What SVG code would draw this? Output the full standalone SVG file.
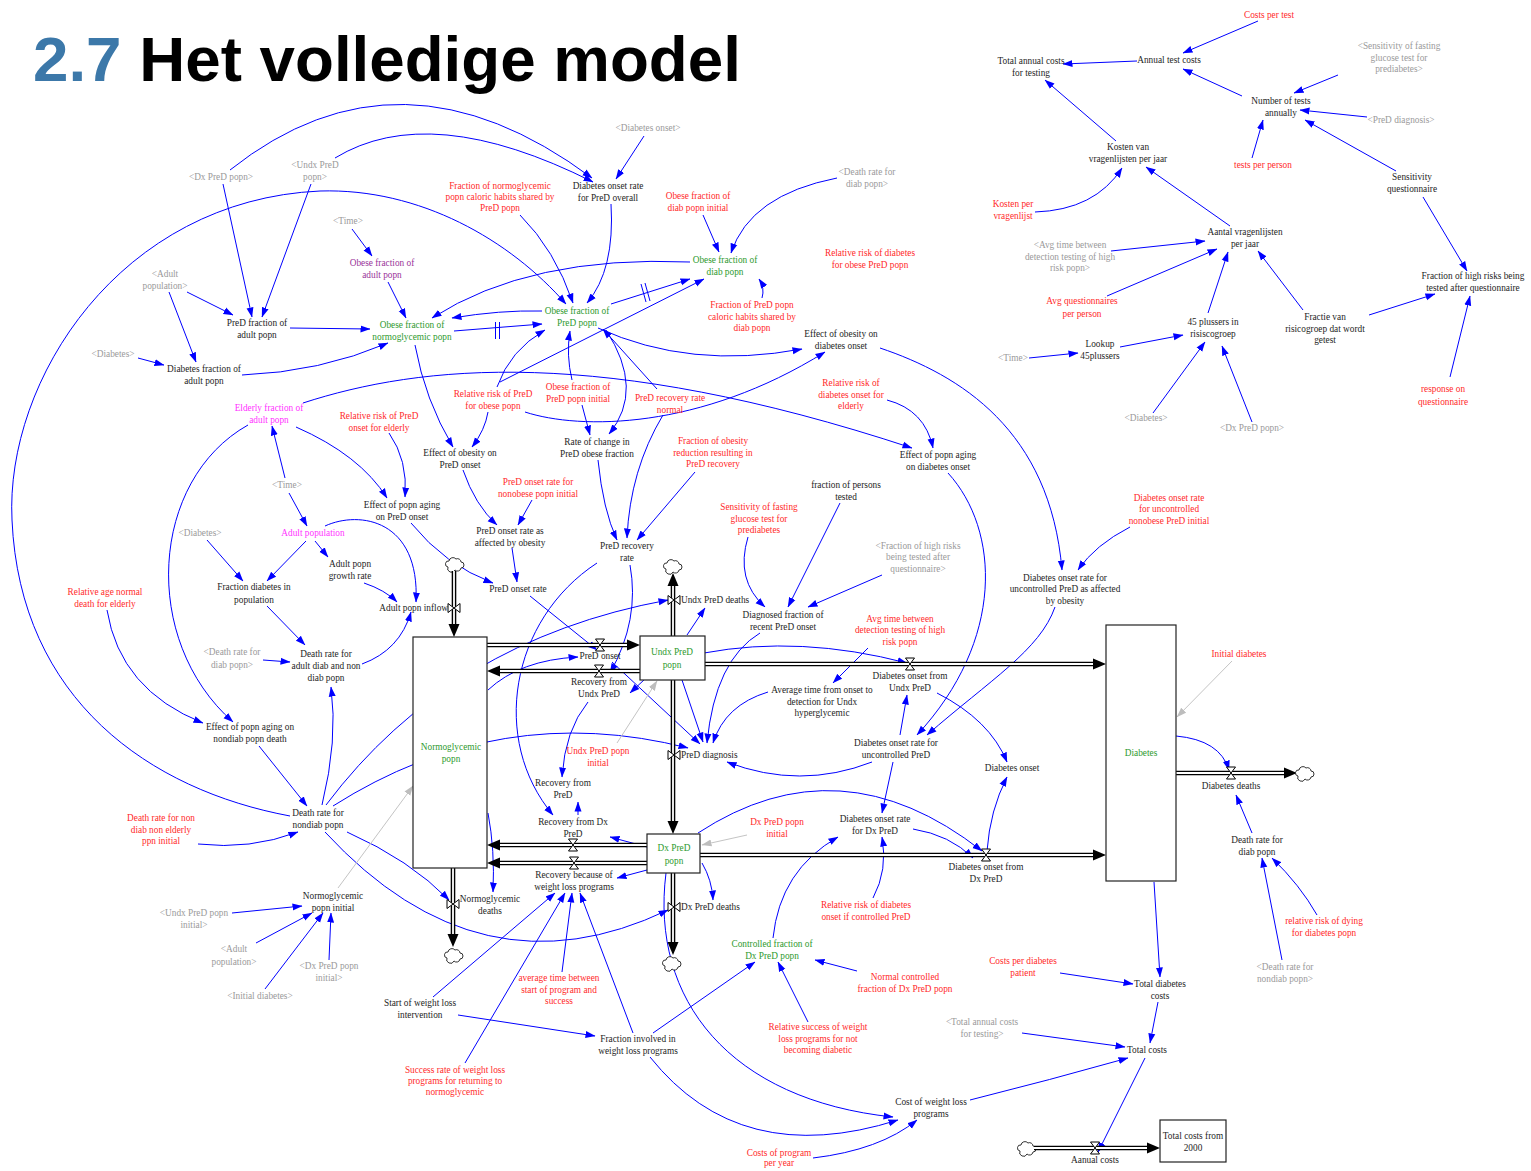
<svg xmlns="http://www.w3.org/2000/svg" xmlns:xlink="http://www.w3.org/1999/xlink" width="1531" height="1171" viewBox="0 0 1531 1171">
<style>
.t{font-family:"Liberation Serif","Times New Roman",serif;font-size:9.3px;text-anchor:middle}
.s{text-anchor:start}.e{text-anchor:end}
.k{fill:#1e1e1e}.r{fill:#ff2a2a}.g{fill:#9a9a9a}.gr{fill:#2e9a2e}.p{fill:#993399}.m{fill:#ff33ff}
.a{fill:none;stroke:#0000ff;stroke-width:1;marker-end:url(#ab)}
.ag{fill:none;stroke:#c4c4c4;stroke-width:1;marker-end:url(#ag)}
.h{stroke:#0000ff;stroke-width:1;fill:none}
.po{fill:none;stroke:#000;stroke-width:4.6}
.pi{fill:none;stroke:#fff;stroke-width:1.8}
.ph{fill:#000}
.st{fill:#fff;stroke:#222;stroke-width:1.2}
.v{fill:#fff;stroke:#000;stroke-width:1}
.cl{fill:#fff;stroke:#000;stroke-width:0.8}
</style>
<defs>
<marker id="ab" markerUnits="userSpaceOnUse" markerWidth="10" markerHeight="8" viewBox="0 0 10 8" refX="9.5" refY="4" orient="auto"><path d="M0,0.5 L10,4 L0,7.5 Z" fill="#0000ff"/></marker>
<marker id="ag" markerUnits="userSpaceOnUse" markerWidth="10" markerHeight="8" viewBox="0 0 10 8" refX="9.5" refY="4" orient="auto"><path d="M0,0.5 L10,4 L0,7.5 Z" fill="#bdbdbd"/></marker>
<path id="vh" class="v" d="M-4.5,-6H4.5L-4.5,6H4.5Z"/>
<path id="vv" class="v" d="M-6,-4.5V4.5L6,-4.5V4.5Z"/>
<path id="cloud" class="cl" d="M-7,3 A3,3 0 0 1 -6,-3 A4,4 0 0 1 1,-5 A3.5,3.5 0 0 1 6,-2 A3,3 0 0 1 6,4 A3.5,3.5 0 0 1 0,6 A3.5,3.5 0 0 1 -7,3 Z"/>
</defs>
<rect width="1531" height="1171" fill="#fff"/>
<text x="33" y="81" font-family="Liberation Sans, Arial, sans-serif" font-weight="bold" font-size="63.7" fill="#000"><tspan fill="#3c78a9">2.7</tspan> Het volledige model</text>

<g id="connectors">
<path class="a" d="M1258,21 L1183,53"/>
<path class="a" d="M1137,61 L1063,64"/>
<path class="a" d="M1242,96 L1183,69"/>
<path class="a" d="M1338,75 L1294,93"/>
<path class="a" d="M1367,117 L1300,110"/>
<path class="a" d="M1252,158 L1263,120"/>
<path class="a" d="M1396,171 L1305,120"/>
<path class="a" d="M1116,141 L1045,80"/>
<path class="a" d="M1035,212 Q1095,210 1122,168"/>
<path class="a" d="M1230,226 L1146,167"/>
<path class="a" d="M1111,251 L1205,241"/>
<path class="a" d="M1107,296 L1217,249"/>
<path class="a" d="M1208,313 L1228,252"/>
<path class="a" d="M1303,310 L1258,251"/>
<path class="a" d="M1423,197 L1467,271"/>
<path class="a" d="M1369,315 L1435,294"/>
<path class="a" d="M1450,377 L1470,296"/>
<path class="a" d="M1120,347 L1183,335"/>
<path class="a" d="M1029,358 L1078,353"/>
<path class="a" d="M1153,413 L1205,342"/>
<path class="a" d="M1252,422 L1222,346"/>

<path class="a" d="M223,184 L252,317"/>
<path class="a" d="M311,184 L262,317"/>
<path class="a" d="M230,170 Q400,35 592,178"/>
<path class="a" d="M335,158 Q430,100 593,182"/>
<path class="a" d="M187,292 L233,315"/>
<path class="a" d="M169,292 L196,362"/>
<path class="a" d="M138,358 L164,365"/>
<path class="a" d="M290,328 L370,329"/>
<path class="a" d="M242,375 Q320,372 388,343"/>
<path class="a" d="M352,229 L372,256"/>
<path class="a" d="M388,282 L406,318"/>
<path class="a" d="M690,262 Q530,255 432,318"/>
<path class="a" d="M542,311 Q500,310 452,318"/>
<path class="a" d="M454,331 L542,324"/>
<path class="h" d="M495.5,322 V339 M499.5,322 V339"/>
<path class="a" d="M290,816 C150,790 20,700 12,520 C5,380 120,200 320,191 C420,188 510,240 566,304"/>
<path class="a" d="M520,215 Q555,250 573,303"/>
<path class="a" d="M611,204 Q615,270 587,303"/>
<path class="a" d="M644,136 L616,179"/>
<path class="a" d="M703,215 L719,252"/>
<path class="a" d="M837,178 Q750,195 731,253"/>
<path class="a" d="M762,298 Q765,288 759,279"/>
<path class="a" d="M611,304 L690,279"/>
<path class="h" d="M641,284 L646,302 M645,283 L650,301"/>
<path class="a" d="M500,382 L704,279"/>
<path class="a" d="M497,387 Q510,350 545,330"/>
<path class="a" d="M598,328 Q690,370 802,349"/>
<path class="a" d="M606,330 Q645,390 609,434"/>
<path class="a" d="M572,380 Q566,355 570,331"/>
<path class="a" d="M582,405 L590,435"/>
<path class="a" d="M657,389 L603,329"/>
<path class="a" d="M663,415 Q630,470 627,538"/>
<path class="a" d="M695,472 L637,540"/>
<path class="a" d="M598,460 Q603,510 617,540"/>
<path class="a" d="M532,500 L518,525"/>
<path class="a" d="M512,548 L517,582"/>
<path class="a" d="M530,596 L597,650"/>
<path class="a" d="M415,345 Q425,400 453,447"/>
<path class="a" d="M488,412 Q485,430 472,447"/>
<path class="a" d="M525,412 C580,430 700,430 825,352"/>
<path class="a" d="M303,403 C420,365 600,345 912,448"/>
<path class="a" d="M887,400 Q925,410 933,448"/>
<path class="a" d="M880,348 C960,375 1050,430 1062,570"/>
<path class="a" d="M1130,527 Q1095,545 1078,570"/>
<path class="a" d="M948,473 C1000,530 1005,640 917,735"/>
<path class="a" d="M1055,607 C1040,650 990,680 927,735"/>
<path class="a" d="M840,503 L788,607"/>
<path class="a" d="M748,537 Q735,580 765,607"/>
<path class="a" d="M882,575 L808,607"/>
<path class="a" d="M868,648 L833,683"/>
<path class="a" d="M760,633 Q715,660 707,743"/>
<path class="a" d="M768,692 Q725,705 713,743"/>
<path class="a" d="M872,762 Q800,790 727,762"/>
<path class="a" d="M682,680 L703,742"/>
<path class="a" d="M612,662 L700,744"/>
<path class="a" d="M704,653 Q800,635 907,663"/>
<path class="a" d="M900,735 L907,695"/>
<path class="a" d="M893,762 L882,813"/>
<path class="a" d="M937,693 Q990,720 1007,762"/>
<path class="a" d="M987,851 Q990,810 1007,777"/>
<path class="a" d="M698,833 Q840,740 982,851"/>
<path class="a" d="M913,829 Q950,835 973,858"/>
<path class="a" d="M873,898 Q888,870 882,837"/>
<path class="a" d="M773,938 Q780,870 838,837"/>
<path class="a" d="M857,971 L815,960"/>
<path class="a" d="M808,1022 L778,962"/>
<path class="a" d="M653,1033 L755,962"/>
<path class="a" d="M458,1015 L595,1036"/>
<path class="a" d="M433,997 L555,893"/>
<path class="a" d="M465,1063 L565,893"/>
<path class="a" d="M562,972 L572,893"/>
<path class="a" d="M633,1033 L580,893"/>
<path class="a" d="M650,1057 Q740,1170 898,1120"/>
<path class="a" d="M666,873 C650,1000 730,1100 893,1117"/>
<path class="a" d="M813,1158 Q880,1150 917,1120"/>
<path class="a" d="M970,1100 Q1050,1080 1128,1058"/>
<path class="a" d="M1022,1033 L1125,1047"/>
<path class="a" d="M1158,1002 L1150,1043"/>
<path class="a" d="M1060,973 L1133,984"/>
<path class="a" d="M1154,882 L1160,977"/>
<path class="a" d="M1145,1058 L1098,1152"/>
<path class="a" d="M1252,833 L1236,795"/>
<path class="a" d="M1282,960 L1262,858"/>
<path class="a" d="M1317,915 Q1300,885 1272,858"/>
<path class="a" d="M1176,736 Q1220,740 1229,770"/>
<path class="ag" d="M1232,661 L1177,717"/>

<path class="a" d="M285,478 L272,426"/>
<path class="a" d="M289,493 L307,526"/>
<path class="a" d="M296,427 Q360,455 387,498"/>
<path class="a" d="M389,433 Q408,460 405,497"/>
<path class="a" d="M411,523 Q445,565 493,583"/>
<path class="a" d="M463,470 Q475,505 497,525"/>
<path class="a" d="M207,540 L243,581"/>
<path class="a" d="M306,541 L267,581"/>
<path class="a" d="M315,541 L328,557"/>
<path class="a" d="M325,526 C360,510 420,520 416,602"/>
<path class="a" d="M364,583 Q385,590 397,602"/>
<path class="a" d="M267,606 L305,645"/>
<path class="a" d="M263,660 L290,662"/>
<path class="a" d="M362,664 Q400,650 411,612"/>
<path class="a" d="M248,425 C150,480 140,640 233,722"/>
<path class="a" d="M107,610 Q120,690 203,723"/>
<path class="a" d="M259,746 L307,806"/>
<path class="a" d="M198,844 Q250,850 298,832"/>
<path class="a" d="M322,805 Q338,740 331,687"/>
<path class="a" d="M326,805 Q450,640 668,600"/>
<path class="a" d="M333,806 Q500,700 688,748"/>
<path class="a" d="M347,832 Q410,860 449,900"/>
<path class="a" d="M325,832 Q480,1000 668,910"/>
<path class="a" d="M488,813 Q495,850 493,892"/>
<path class="ag" d="M338,888 L413,786"/>
<path class="a" d="M232,913 L302,906"/>
<path class="a" d="M256,943 L312,913"/>
<path class="a" d="M265,989 L323,913"/>
<path class="a" d="M329,960 L331,913"/>
<path class="a" d="M488,690 Q520,660 578,657"/>
<path class="a" d="M597,563 C510,620 490,740 553,815"/>
<path class="a" d="M630,565 Q640,620 610,673"/>
<path class="a" d="M687,635 L705,608"/>
<path class="a" d="M645,679 L630,693"/>
<path class="ag" d="M617,743 L657,681"/>
<path class="a" d="M588,702 Q565,730 562,777"/>
<path class="a" d="M578,815 L578,802"/>
<path class="a" d="M647,847 L610,837"/>
<path class="a" d="M647,870 L617,878"/>
<path class="ag" d="M747,835 L702,845"/>
<path class="a" d="M702,863 Q712,880 713,900"/>
</g>

<g id="flows">
<g id="f-adult-popn-inflow"><use href="#cloud" x="455" y="564"/><path class="po" d="M454,571 V626"/><path class="pi" d="M454,571 V626"/><polygon class="ph" points="448.5,624 454,637 459.5,624"/><use href="#vv" x="454" y="608"/><text class="t k e" x="448" y="611">Adult popn inflow</text></g>
<g id="f-pred-onset"><path class="po" d="M487,645 H629"/><path class="pi" d="M487,645 H629"/><polygon class="ph" points="627,639.5 640,645 627,650.5"/><use href="#vh" x="600" y="645"/><text class="t k" x="600" y="659">PreD onset</text></g>
<g id="f-recovery-undx"><path class="po" d="M640,671 H498"/><path class="pi" d="M640,671 H498"/><polygon class="ph" points="500,665.5 487,671 500,676.5"/><use href="#vh" x="599" y="671"/><text class="t k" x="599" y="685"><tspan x="599">Recovery from</tspan><tspan x="599" dy="11.6">Undx PreD</tspan></text></g>
<g id="f-undx-deaths"><use href="#cloud" x="673" y="566"/><path class="po" d="M673,636 V584"/><path class="pi" d="M673,636 V584"/><polygon class="ph" points="667.5,586 673,573 678.5,586"/><use href="#vv" x="674" y="600"/><text class="t k s" x="681" y="603">Undx PreD deaths</text></g>
<g id="f-pred-diagnosis"><path class="po" d="M673,680 V823"/><path class="pi" d="M673,680 V823"/><polygon class="ph" points="667.5,821 673,834 678.5,821"/><use href="#vv" x="674" y="755"/><text class="t k s" x="681" y="758">PreD diagnosis</text></g>
<g id="f-diab-onset-undx"><path class="po" d="M705,664 H1095"/><path class="pi" d="M705,664 H1095"/><polygon class="ph" points="1093,658.5 1106,664 1093,669.5"/><use href="#vh" x="910" y="664"/><text class="t k" x="910" y="679"><tspan x="910">Diabetes onset from</tspan><tspan x="910" dy="11.6">Undx PreD</tspan></text></g>
<g id="f-recovery-dx"><path class="po" d="M647,845 H498"/><path class="pi" d="M647,845 H498"/><polygon class="ph" points="500,839.5 487,845 500,850.5"/><use href="#vh" x="573" y="845"/><text class="t k" x="573" y="825"><tspan x="573">Recovery from Dx</tspan><tspan x="573" dy="11.6">PreD</tspan></text></g>
<g id="f-recovery-weight"><path class="po" d="M647,863 H498"/><path class="pi" d="M647,863 H498"/><polygon class="ph" points="500,857.5 487,863 500,868.5"/><use href="#vh" x="574" y="863"/><text class="t k" x="574" y="878"><tspan x="574">Recovery because of</tspan><tspan x="574" dy="11.6">weight loss programs</tspan></text></g>
<g id="f-diab-onset-dx"><path class="po" d="M700,855 H1095"/><path class="pi" d="M700,855 H1095"/><polygon class="ph" points="1093,849.5 1106,855 1093,860.5"/><use href="#vh" x="986" y="855"/><text class="t k" x="986" y="870"><tspan x="986">Diabetes onset from</tspan><tspan x="986" dy="11.6">Dx PreD</tspan></text></g>
<g id="f-dx-deaths"><path class="po" d="M673,873 V944"/><path class="pi" d="M673,873 V944"/><polygon class="ph" points="667.5,942 673,955 678.5,942"/><use href="#cloud" x="672" y="963"/><use href="#vv" x="674" y="907"/><text class="t k s" x="681" y="910">Dx PreD deaths</text></g>
<g id="f-normo-deaths"><path class="po" d="M453,868 V936"/><path class="pi" d="M453,868 V936"/><polygon class="ph" points="447.5,934 453,947 458.5,934"/><use href="#cloud" x="454" y="955"/><use href="#vv" x="453" y="904"/><text class="t k" x="490" y="902"><tspan x="490">Normoglycemic</tspan><tspan x="490" dy="11.6">deaths</tspan></text></g>
<g id="f-diabetes-deaths"><path class="po" d="M1176,773 H1286"/><path class="pi" d="M1176,773 H1286"/><polygon class="ph" points="1284,767.5 1297,773 1284,778.5"/><use href="#cloud" x="1305" y="773"/><use href="#vh" x="1231" y="773"/><text class="t k" x="1231" y="789">Diabetes deaths</text></g>
<g id="f-aanual-costs"><use href="#cloud" x="1027" y="1148"/><path class="po" d="M1034,1148 H1149"/><path class="pi" d="M1034,1148 H1149"/><polygon class="ph" points="1147,1142.5 1160,1148 1147,1153.5"/><use href="#vh" x="1095" y="1148"/><text class="t k" x="1095" y="1163">Aanual costs</text></g>
</g>

<g id="stocks">
<g id="s-normoglycemic"><rect class="st" x="413" y="637" width="74" height="231"/><text class="t gr" x="451" y="750"><tspan x="451">Normoglycemic</tspan><tspan x="451" dy="11.6">popn</tspan></text></g>
<g id="s-undx-pred"><rect class="st" x="640" y="636" width="65" height="44"/><text class="t gr" x="672" y="655"><tspan x="672">Undx PreD</tspan><tspan x="672" dy="12.5">popn</tspan></text></g>
<g id="s-dx-pred"><rect class="st" x="647" y="834" width="53" height="39"/><text class="t gr" x="674" y="851"><tspan x="674">Dx PreD</tspan><tspan x="674" dy="12.5">popn</tspan></text></g>
<g id="s-diabetes"><rect class="st" x="1106" y="625" width="70" height="256"/><text class="t gr" x="1141" y="756">Diabetes</text></g>
<g id="s-total-costs-2000"><rect class="st" x="1160" y="1120" width="66" height="42"/><text class="t k" x="1193" y="1139"><tspan x="1193">Total costs from</tspan><tspan x="1193" dy="11.6">2000</tspan></text></g>
</g>

<g id="n-costs-per-test"><text class="t r" x="1269" y="18">Costs per test</text></g>
<g id="n-annual-test-costs"><text class="t k" x="1169" y="63">Annual test costs</text></g>
<g id="n-total-annual-costs"><text class="t k" x="1031" y="64"><tspan x="1031">Total annual costs</tspan><tspan x="1031" dy="11.6">for testing</tspan></text></g>
<g id="n-sens-fasting-shadow"><text class="t g" x="1399" y="49"><tspan x="1399">&lt;Sensitivity of fasting</tspan><tspan x="1399" dy="11.6">glucose test for</tspan><tspan x="1399" dy="11.6">prediabetes&gt;</tspan></text></g>
<g id="n-number-of-tests"><text class="t k" x="1281" y="104"><tspan x="1281">Number of tests</tspan><tspan x="1281" dy="11.6">annually</tspan></text></g>
<g id="n-pred-diagnosis-shadow"><text class="t g" x="1401" y="123">&lt;PreD diagnosis&gt;</text></g>
<g id="n-tests-per-person"><text class="t r" x="1263" y="168">tests per person</text></g>
<g id="n-kosten-van"><text class="t k" x="1128" y="150"><tspan x="1128">Kosten van</tspan><tspan x="1128" dy="11.6">vragenlijsten per jaar</tspan></text></g>
<g id="n-sensitivity-q"><text class="t k" x="1412" y="180"><tspan x="1412">Sensitivity</tspan><tspan x="1412" dy="11.6">questionnaire</tspan></text></g>
<g id="n-kosten-per"><text class="t r" x="1013" y="207"><tspan x="1013">Kosten per</tspan><tspan x="1013" dy="11.6">vragenlijst</tspan></text></g>
<g id="n-aantal"><text class="t k" x="1245" y="235"><tspan x="1245">Aantal vragenlijsten</tspan><tspan x="1245" dy="11.6">per jaar</tspan></text></g>
<g id="n-avg-time-shadow"><text class="t g" x="1070" y="248"><tspan x="1070">&lt;Avg time between</tspan><tspan x="1070" dy="11.6">detection testing of high</tspan><tspan x="1070" dy="11.6">risk popn&gt;</tspan></text></g>
<g id="n-fraction-high-risks"><text class="t k" x="1473" y="279"><tspan x="1473">Fraction of high risks being</tspan><tspan x="1473" dy="11.6">tested after questionnaire</tspan></text></g>
<g id="n-avg-quest"><text class="t r" x="1082" y="304"><tspan x="1082">Avg questionnaires</tspan><tspan x="1082" dy="12.5">per person</tspan></text></g>
<g id="n-45plussers"><text class="t k" x="1213" y="325"><tspan x="1213">45 plussers in</tspan><tspan x="1213" dy="11.6">risiscogroep</tspan></text></g>
<g id="n-fractie"><text class="t k" x="1325" y="320"><tspan x="1325">Fractie van</tspan><tspan x="1325" dy="11.6">risicogroep dat wordt</tspan><tspan x="1325" dy="11.6">getest</tspan></text></g>
<g id="n-lookup"><text class="t k" x="1100" y="347"><tspan x="1100">Lookup</tspan><tspan x="1100" dy="11.6">45plussers</tspan></text></g>
<g id="n-time-shadow3"><text class="t g" x="1013" y="361">&lt;Time&gt;</text></g>
<g id="n-diabetes-shadow3"><text class="t g" x="1146" y="421">&lt;Diabetes&gt;</text></g>
<g id="n-dxpred-shadow2"><text class="t g" x="1252" y="431">&lt;Dx PreD popn&gt;</text></g>
<g id="n-response"><text class="t r" x="1443" y="392"><tspan x="1443">response on</tspan><tspan x="1443" dy="12.5">questionnaire</tspan></text></g>

<g id="n-diab-onset-shadow"><text class="t g" x="648" y="131">&lt;Diabetes onset&gt;</text></g>
<g id="n-diab-onset-rate-pred"><text class="t k" x="608" y="189"><tspan x="608">Diabetes onset rate</tspan><tspan x="608" dy="11.6">for PreD overall</tspan></text></g>
<g id="n-dxpred-shadow1"><text class="t g" x="221" y="180">&lt;Dx PreD popn&gt;</text></g>
<g id="n-undxpred-shadow"><text class="t g" x="315" y="168"><tspan x="315">&lt;Undx PreD</tspan><tspan x="315" dy="11.6">popn&gt;</tspan></text></g>
<g id="n-frac-normo-caloric"><text class="t r" x="500" y="189"><tspan x="500">Fraction of normoglycemic</tspan><tspan x="500" dy="11.2">popn caloric habits shared by</tspan><tspan x="500" dy="11.2">PreD popn</tspan></text></g>
<g id="n-death-diab-shadow1"><text class="t g" x="867" y="175"><tspan x="867">&lt;Death rate for</tspan><tspan x="867" dy="11.6">diab popn&gt;</tspan></text></g>
<g id="n-obese-diab-initial"><text class="t r" x="698" y="199"><tspan x="698">Obese fraction of</tspan><tspan x="698" dy="11.6">diab popn initial</tspan></text></g>
<g id="n-time-shadow1"><text class="t g" x="348" y="224">&lt;Time&gt;</text></g>
<g id="n-rr-diab-obese"><text class="t r" x="870" y="256"><tspan x="870">Relative risk of diabetes</tspan><tspan x="870" dy="11.6">for obese PreD popn</tspan></text></g>
<g id="n-obese-diab"><text class="t gr" x="725" y="263"><tspan x="725">Obese fraction of</tspan><tspan x="725" dy="11.6">diab popn</tspan></text></g>
<g id="n-adult-pop-shadow1"><text class="t g" x="165" y="277"><tspan x="165">&lt;Adult</tspan><tspan x="165" dy="11.6">population&gt;</tspan></text></g>
<g id="n-obese-adult"><text class="t p" x="382" y="266"><tspan x="382">Obese fraction of</tspan><tspan x="382" dy="11.6">adult popn</tspan></text></g>
<g id="n-obese-pred"><text class="t gr" x="577" y="314"><tspan x="577">Obese fraction of</tspan><tspan x="577" dy="11.6">PreD popn</tspan></text></g>
<g id="n-frac-pred-caloric"><text class="t r" x="752" y="308"><tspan x="752">Fraction of PreD popn</tspan><tspan x="752" dy="11.6">caloric habits shared by</tspan><tspan x="752" dy="11.6">diab popn</tspan></text></g>
<g id="n-pred-fraction"><text class="t k" x="257" y="326"><tspan x="257">PreD fraction of</tspan><tspan x="257" dy="11.6">adult popn</tspan></text></g>
<g id="n-obese-normo"><text class="t gr" x="412" y="328"><tspan x="412">Obese fraction of</tspan><tspan x="412" dy="11.6">normoglycemic popn</tspan></text></g>
<g id="n-effect-obesity-diab"><text class="t k" x="841" y="337"><tspan x="841">Effect of obesity on</tspan><tspan x="841" dy="11.6">diabetes onset</tspan></text></g>
<g id="n-diabetes-shadow1"><text class="t g" x="113" y="357">&lt;Diabetes&gt;</text></g>
<g id="n-diabetes-fraction"><text class="t k" x="204" y="372"><tspan x="204">Diabetes fraction of</tspan><tspan x="204" dy="11.6">adult popn</tspan></text></g>
<g id="n-rr-pred-obese"><text class="t r" x="493" y="397"><tspan x="493">Relative risk of PreD</tspan><tspan x="493" dy="11.6">for obese popn</tspan></text></g>
<g id="n-obese-pred-initial"><text class="t r" x="578" y="390"><tspan x="578">Obese fraction of</tspan><tspan x="578" dy="11.6">PreD popn initial</tspan></text></g>
<g id="n-pred-recovery-normal"><text class="t r" x="670" y="401"><tspan x="670">PreD recovery rate</tspan><tspan x="670" dy="11.6">normal</tspan></text></g>
<g id="n-rr-diab-elderly"><text class="t r" x="851" y="386"><tspan x="851">Relative risk of</tspan><tspan x="851" dy="11.6">diabetes onset for</tspan><tspan x="851" dy="11.6">elderly</tspan></text></g>
<g id="n-elderly"><text class="t m" x="269" y="411"><tspan x="269">Elderly fraction of</tspan><tspan x="269" dy="11.6">adult popn</tspan></text></g>
<g id="n-rr-pred-elderly"><text class="t r" x="379" y="419"><tspan x="379">Relative risk of PreD</tspan><tspan x="379" dy="11.6">onset for elderly</tspan></text></g>
<g id="n-rate-change"><text class="t k" x="597" y="445"><tspan x="597">Rate of change in</tspan><tspan x="597" dy="11.6">PreD obese fraction</tspan></text></g>
<g id="n-frac-obesity-red"><text class="t r" x="713" y="444"><tspan x="713">Fraction of obesity</tspan><tspan x="713" dy="11.6">reduction resulting in</tspan><tspan x="713" dy="11.6">PreD recovery</tspan></text></g>
<g id="n-effect-obesity-pred"><text class="t k" x="460" y="456"><tspan x="460">Effect of obesity on</tspan><tspan x="460" dy="11.6">PreD onset</tspan></text></g>
<g id="n-effect-aging-diab"><text class="t k" x="938" y="458"><tspan x="938">Effect of popn aging</tspan><tspan x="938" dy="11.6">on diabetes onset</tspan></text></g>
<g id="n-time-shadow2"><text class="t g" x="287" y="488">&lt;Time&gt;</text></g>
<g id="n-frac-persons-tested"><text class="t k" x="846" y="488"><tspan x="846">fraction of persons</tspan><tspan x="846" dy="11.6">tested</tspan></text></g>
<g id="n-pred-onset-nonobese"><text class="t r" x="538" y="485"><tspan x="538">PreD onset rate for</tspan><tspan x="538" dy="11.6">nonobese popn initial</tspan></text></g>
<g id="n-diab-onset-nonobese"><text class="t r" x="1169" y="501"><tspan x="1169">Diabetes onset rate</tspan><tspan x="1169" dy="11.3">for uncontrolled</tspan><tspan x="1169" dy="11.3">nonobese PreD initial</tspan></text></g>
<g id="n-effect-aging-pred"><text class="t k" x="402" y="508"><tspan x="402">Effect of popn aging</tspan><tspan x="402" dy="11.6">on PreD onset</tspan></text></g>
<g id="n-sens-fasting"><text class="t r" x="759" y="510"><tspan x="759">Sensitivity of fasting</tspan><tspan x="759" dy="11.6">glucose test for</tspan><tspan x="759" dy="11.6">prediabetes</tspan></text></g>
<g id="n-diabetes-shadow2"><text class="t g" x="200" y="536">&lt;Diabetes&gt;</text></g>
<g id="n-adult-population"><text class="t m" x="313" y="536">Adult population</text></g>
<g id="n-pred-onset-obesity"><text class="t k" x="510" y="534"><tspan x="510">PreD onset rate as</tspan><tspan x="510" dy="11.6">affected by obesity</tspan></text></g>
<g id="n-frac-high-shadow"><text class="t g" x="918" y="549"><tspan x="918">&lt;Fraction of high risks</tspan><tspan x="918" dy="11.3">being tested after</tspan><tspan x="918" dy="11.3">questionnaire&gt;</tspan></text></g>
<g id="n-pred-recovery-rate"><text class="t k" x="627" y="549"><tspan x="627">PreD recovery</tspan><tspan x="627" dy="11.6">rate</tspan></text></g>
<g id="n-adult-growth"><text class="t k" x="350" y="567"><tspan x="350">Adult popn</tspan><tspan x="350" dy="11.6">growth rate</tspan></text></g>
<g id="n-diab-onset-obesity"><text class="t k" x="1065" y="581"><tspan x="1065">Diabetes onset rate for</tspan><tspan x="1065" dy="11.3">uncontrolled PreD as affected</tspan><tspan x="1065" dy="11.3">by obesity</tspan></text></g>
<g id="n-frac-diab-pop"><text class="t k" x="254" y="590"><tspan x="254">Fraction diabetes in</tspan><tspan x="254" dy="12.5">population</tspan></text></g>
<g id="n-pred-onset-rate"><text class="t k" x="518" y="592">PreD onset rate</text></g>
<g id="n-diagnosed-frac"><text class="t k" x="783" y="618"><tspan x="783">Diagnosed fraction of</tspan><tspan x="783" dy="11.6">recent PreD onset</tspan></text></g>
<g id="n-rel-age"><text class="t r" x="105" y="595"><tspan x="105">Relative age normal</tspan><tspan x="105" dy="11.6">death for elderly</tspan></text></g>
<g id="n-avg-time-detect"><text class="t r" x="900" y="622"><tspan x="900">Avg time between</tspan><tspan x="900" dy="11.3">detection testing of high</tspan><tspan x="900" dy="11.3">risk popn</tspan></text></g>
<g id="n-death-diab-shadow2"><text class="t g" x="232" y="655"><tspan x="232">&lt;Death rate for</tspan><tspan x="232" dy="12.5">diab popn&gt;</tspan></text></g>
<g id="n-initial-diabetes"><text class="t r" x="1239" y="657">Initial diabetes</text></g>
<g id="n-death-adult"><text class="t k" x="326" y="657"><tspan x="326">Death rate for</tspan><tspan x="326" dy="12">adult diab and non</tspan><tspan x="326" dy="12">diab popn</tspan></text></g>
<g id="n-avg-time-onset"><text class="t k" x="822" y="693"><tspan x="822">Average time from onset to</tspan><tspan x="822" dy="11.6">detection for Undx</tspan><tspan x="822" dy="11.2">hyperglycemic</tspan></text></g>
<g id="n-effect-aging-nondiab"><text class="t k" x="250" y="730"><tspan x="250">Effect of popn aging on</tspan><tspan x="250" dy="11.6">nondiab popn death</tspan></text></g>
<g id="n-diab-onset-uncontrolled"><text class="t k" x="896" y="746"><tspan x="896">Diabetes onset rate for</tspan><tspan x="896" dy="11.6">uncontrolled PreD</tspan></text></g>
<g id="n-undx-initial"><text class="t r" x="598" y="754"><tspan x="598">Undx PreD popn</tspan><tspan x="598" dy="11.6">initial</tspan></text></g>
<g id="n-diabetes-onset"><text class="t k" x="1012" y="771">Diabetes onset</text></g>
<g id="n-recovery-pred"><text class="t k" x="563" y="786"><tspan x="563">Recovery from</tspan><tspan x="563" dy="11.6">PreD</tspan></text></g>
<g id="n-death-nondiab"><text class="t k" x="318" y="816"><tspan x="318">Death rate for</tspan><tspan x="318" dy="11.6">nondiab popn</tspan></text></g>
<g id="n-death-nonelderly"><text class="t r" x="161" y="821"><tspan x="161">Death rate for non</tspan><tspan x="161" dy="11.6">diab non elderly</tspan><tspan x="161" dy="11.6">ppn initial</tspan></text></g>
<g id="n-diab-onset-dx"><text class="t k" x="875" y="822"><tspan x="875">Diabetes onset rate</tspan><tspan x="875" dy="11.6">for Dx PreD</tspan></text></g>
<g id="n-dx-initial"><text class="t r" x="777" y="825"><tspan x="777">Dx PreD popn</tspan><tspan x="777" dy="11.6">initial</tspan></text></g>
<g id="n-death-diab"><text class="t k" x="1257" y="843"><tspan x="1257">Death rate for</tspan><tspan x="1257" dy="11.6">diab popn</tspan></text></g>
<g id="n-normo-initial"><text class="t k" x="333" y="899"><tspan x="333">Normoglycemic</tspan><tspan x="333" dy="11.6">popn initial</tspan></text></g>
<g id="n-rr-controlled"><text class="t r" x="866" y="908"><tspan x="866">Relative risk of diabetes</tspan><tspan x="866" dy="11.6">onset if controlled PreD</tspan></text></g>
<g id="n-undx-initial-shadow"><text class="t g" x="194" y="916"><tspan x="194">&lt;Undx PreD popn</tspan><tspan x="194" dy="11.6">initial&gt;</tspan></text></g>
<g id="n-rr-dying"><text class="t r" x="1324" y="924"><tspan x="1324">relative risk of dying</tspan><tspan x="1324" dy="11.6">for diabetes popn</tspan></text></g>
<g id="n-controlled-frac"><text class="t gr" x="772" y="947"><tspan x="772">Controlled fraction of</tspan><tspan x="772" dy="11.6">Dx PreD popn</tspan></text></g>
<g id="n-adult-pop-shadow2"><text class="t g" x="234" y="952"><tspan x="234">&lt;Adult</tspan><tspan x="234" dy="12.5">population&gt;</tspan></text></g>
<g id="n-dx-initial-shadow"><text class="t g" x="329" y="969"><tspan x="329">&lt;Dx PreD popn</tspan><tspan x="329" dy="11.6">initial&gt;</tspan></text></g>
<g id="n-costs-per-diab"><text class="t r" x="1023" y="964"><tspan x="1023">Costs per diabetes</tspan><tspan x="1023" dy="11.6">patient</tspan></text></g>
<g id="n-death-nondiab-shadow"><text class="t g" x="1285" y="970"><tspan x="1285">&lt;Death rate for</tspan><tspan x="1285" dy="12">nondiab popn&gt;</tspan></text></g>
<g id="n-normal-controlled"><text class="t r" x="905" y="980"><tspan x="905">Normal controlled</tspan><tspan x="905" dy="12">fraction of Dx PreD popn</tspan></text></g>
<g id="n-total-diab-costs"><text class="t k" x="1160" y="987"><tspan x="1160">Total diabetes</tspan><tspan x="1160" dy="12">costs</tspan></text></g>
<g id="n-avg-time-program"><text class="t r" x="559" y="981"><tspan x="559">average time between</tspan><tspan x="559" dy="11.6">start of program and</tspan><tspan x="559" dy="11.2">success</tspan></text></g>
<g id="n-initial-diab-shadow"><text class="t g" x="260" y="999">&lt;Initial diabetes&gt;</text></g>
<g id="n-start-weight"><text class="t k" x="420" y="1006"><tspan x="420">Start of weight loss</tspan><tspan x="420" dy="11.6">intervention</tspan></text></g>
<g id="n-total-annual-shadow"><text class="t g" x="982" y="1025"><tspan x="982">&lt;Total annual costs</tspan><tspan x="982" dy="11.6">for testing&gt;</tspan></text></g>
<g id="n-rel-success"><text class="t r" x="818" y="1030"><tspan x="818">Relative success of weight</tspan><tspan x="818" dy="11.6">loss programs for not</tspan><tspan x="818" dy="11.2">becoming diabetic</tspan></text></g>
<g id="n-fraction-involved"><text class="t k" x="638" y="1042"><tspan x="638">Fraction involved in</tspan><tspan x="638" dy="11.6">weight loss programs</tspan></text></g>
<g id="n-total-costs"><text class="t k" x="1147" y="1053">Total costs</text></g>
<g id="n-success-rate"><text class="t r" x="455" y="1073"><tspan x="455">Success rate of weight loss</tspan><tspan x="455" dy="11.2">programs for returning to</tspan><tspan x="455" dy="11.2">normoglycemic</tspan></text></g>
<g id="n-cost-weight"><text class="t k" x="931" y="1105"><tspan x="931">Cost of weight loss</tspan><tspan x="931" dy="11.6">programs</tspan></text></g>
<g id="n-costs-program"><text class="t r" x="779" y="1156"><tspan x="779">Costs of program</tspan><tspan x="779" dy="10.4">per year</tspan></text></g>
</svg>
